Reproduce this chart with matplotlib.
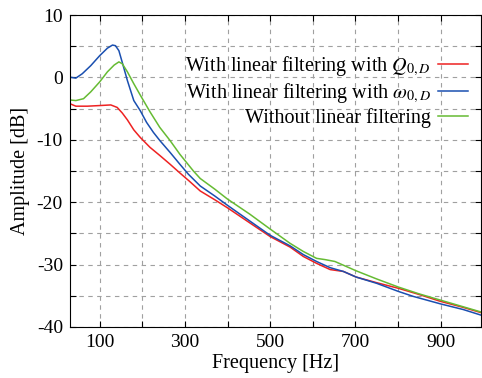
import matplotlib
matplotlib.use("Agg")
import matplotlib.pyplot as plt
import numpy as np

plt.rcParams["font.family"] = ["Liberation Serif", "DejaVu Serif"]
plt.rcParams["mathtext.fontset"] = "stix"

# Frequency [Hz] and amplitude [dB]
freq_q = [30, 44, 71, 100, 126, 141, 153, 165, 180, 195, 218, 241, 265, 288, 310, 336,
          370, 400, 452, 500, 547, 578, 609, 641, 672, 702, 750, 801, 850, 900, 950, 995]
amp_q = [-4.2, -4.6, -4.6, -4.5, -4.4, -4.8, -5.7, -6.8, -8.4, -9.6, -11.2, -12.5, -13.9,
         -15.3, -16.6, -18.2, -19.6, -20.9, -23.3, -25.5, -27.2, -28.7, -29.8, -30.8,
         -31.1, -32.0, -32.9, -33.8, -34.8, -35.9, -36.8, -37.7]

freq_w = [30, 44, 59, 79, 100, 118, 130, 137, 145, 153, 165, 180, 195, 210, 226, 241,
          265, 288, 308, 336, 370, 400, 452, 500, 547, 578, 609, 641, 672, 702, 750, 801,
          836, 900, 953, 995]
amp_w = [0.05, -0.1, 0.6, 1.9, 3.5, 4.7, 5.2, 5.1, 4.3, 2.4, -0.5, -3.7, -5.3, -7.2,
         -8.8, -10.1, -12.0, -13.9, -15.5, -17.4, -19.0, -20.5, -23.0, -25.3, -27.0,
         -28.4, -29.5, -30.5, -31.1, -32.0, -33.0, -34.3, -35.1, -36.3, -37.2, -38.1]

freq_n = [30, 44, 62, 79, 100, 118, 134, 145, 153, 165, 180, 195, 218, 241, 265, 288,
          320, 336, 370, 400, 452, 500, 547, 578, 609, 629, 652, 702, 750, 801, 850, 900,
          950, 995]
amp_n = [-3.6, -3.7, -3.4, -2.3, -0.7, 0.9, 2.0, 2.5, 2.2, 0.9, -1.0, -2.8, -5.5, -8.0,
         -10.1, -12.3, -15.0, -16.2, -17.9, -19.5, -21.9, -24.3, -26.6, -27.9, -29.0,
         -29.2, -29.5, -31.0, -32.3, -33.6, -34.7, -35.7, -36.7, -37.6]

labels = [r"With linear filtering with $Q_{0,D}$",
          r"With linear filtering with $\omega_{0,D}$",
          "Without linear filtering"]
colors = ["#ee2222", "#1a4fb0", "#66bb33"]

fig = plt.figure(figsize=(4.82, 3.78), dpi=100)
ax = fig.add_axes([0.145, 0.135, 0.853, 0.825])

for f, a, lab, c in zip([freq_q, freq_w, freq_n], [amp_q, amp_w, amp_n], labels, colors):
    ax.plot(f, a, color=c, lw=1.1, label=lab)

ax.set_xlim(30, 995)
ax.set_ylim(-40, 10)
ax.set_xticks(np.arange(100, 1000, 100))
ax.set_xticklabels([str(v) if v % 200 == 100 else "" for v in range(100, 1000, 100)])
ax.set_yticks(np.arange(-40, 11, 5))
ax.set_yticklabels([str(v) if v % 10 == 0 else "" for v in range(-40, 11, 5)])
ax.tick_params(direction="in", top=True, right=True, labelsize=14, length=4, pad=5)
ax.grid(True, color="#a0a0a0", ls=(0, (4, 4)), lw=0.8)

ax.set_xlabel("Frequency [Hz]", fontsize=14.5, labelpad=2)
ax.set_ylabel("Amplitude [dB]", fontsize=14.5, labelpad=5)

leg = ax.legend(loc="upper right", bbox_to_anchor=(0.968, 0.875), frameon=False,
                markerfirst=False, fontsize=14.5, handlelength=1.5, handletextpad=0.35,
                labelspacing=0.15, borderaxespad=0, borderpad=0)
for t in leg.get_texts():
    t.set_ha("right")

fig.savefig("out.png", dpi=100)
